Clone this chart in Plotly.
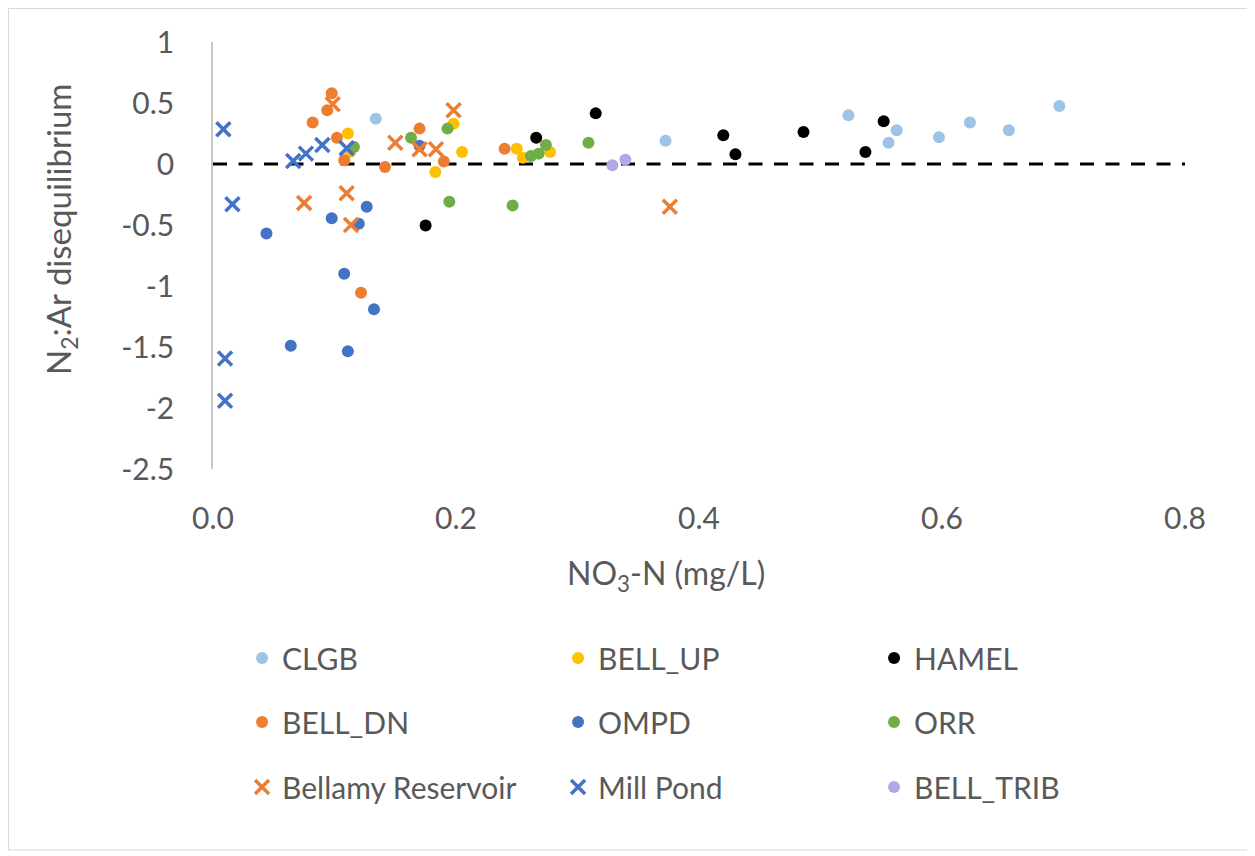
import plotly.graph_objects as go

# ---- data ----
clgb_x = [0.134, 0.3725, 0.523, 0.556, 0.5627, 0.5975, 0.623, 0.655, 0.6966]
clgb_y = [0.37, 0.19, 0.40, 0.175, 0.276, 0.22, 0.34, 0.276, 0.475]

bell_up_x = [0.111, 0.113, 0.183, 0.198, 0.205, 0.250, 0.255, 0.2774]
bell_up_y = [0.25, 0.10, -0.065, 0.33, 0.098, 0.125, 0.052, 0.098]

hamel_x = [0.175, 0.266, 0.315, 0.420, 0.430, 0.486, 0.537, 0.552]
hamel_y = [-0.505, 0.216, 0.415, 0.235, 0.08, 0.262, 0.098, 0.35]

bell_dn_x = [0.082, 0.094, 0.0977, 0.102, 0.108, 0.1218, 0.1416, 0.170, 0.190, 0.240]
bell_dn_y = [0.34, 0.44, 0.58, 0.215, 0.03, -1.055, -0.025, 0.29, 0.02, 0.125]

ompd_x = [0.044, 0.064, 0.0977, 0.108, 0.111, 0.120, 0.1265, 0.1325, 0.170]
ompd_y = [-0.57, -1.49, -0.445, -0.90, -1.535, -0.49, -0.35, -1.19, 0.15]

orr_x = [0.116, 0.163, 0.193, 0.1945, 0.2466, 0.2617, 0.268, 0.274, 0.309]
orr_y = [0.14, 0.216, 0.29, -0.31, -0.34, 0.066, 0.085, 0.156, 0.175]

bellamy_x = [0.075, 0.0985, 0.110, 0.1136, 0.150, 0.170, 0.1835, 0.198, 0.376]
bellamy_y = [-0.32, 0.49, -0.24, -0.50, 0.175, 0.12, 0.12, 0.44, -0.35]

mill_x = [0.0085, 0.0099, 0.0099, 0.016, 0.066, 0.0765, 0.090, 0.110]
mill_y = [0.284, -1.595, -1.94, -0.33, 0.025, 0.085, 0.155, 0.13]

trib_x = [0.3287, 0.3394]
trib_y = [-0.01, 0.035]

ref_x = [0.0, 0.8]
ref_y = [0.0, 0.0]

x_ticks = [0.0, 0.2, 0.4, 0.6, 0.8]
x_tick_text = ["0.0", "0.2", "0.4", "0.6", "0.8"]
y_ticks = [1, 0.5, 0, -0.5, -1, -1.5, -2, -2.5]
y_tick_text = ["1", "0.5", "0", "-0.5", "-1", "-1.5", "-2", "-2.5"]

x_title = "NO<sub>3</sub>-N (mg/L)"
y_title = "N<sub>2</sub>:Ar disequilibrium"

FONT = "Lato"
GREY = "#595959"

fig = go.Figure()

fig.add_trace(go.Scatter(x=ref_x, y=ref_y, mode="lines", showlegend=False,
                         line=dict(color="black", width=3.2, dash="14px,11.5px"),
                         hoverinfo="skip"))

def dots(name, xs, ys, color, legend):
    fig.add_trace(go.Scatter(x=xs, y=ys, mode="markers", name=name, legend=legend,
                             marker=dict(symbol="circle", size=12, color=color,
                                         line=dict(width=0))))

def crosses(name, xs, ys, color, legend):
    fig.add_trace(go.Scatter(x=xs, y=ys, mode="markers", name=name, legend=legend,
                             marker=dict(symbol="x-thin", size=14, color=color,
                                         line=dict(width=3.5, color=color))))

dots("CLGB", clgb_x, clgb_y, "#9DC3E6", "legend")
dots("BELL_UP", bell_up_x, bell_up_y, "#FFC000", "legend")
dots("HAMEL", hamel_x, hamel_y, "#000000", "legend")
dots("BELL_DN", bell_dn_x, bell_dn_y, "#ED7D31", "legend2")
dots("OMPD", ompd_x, ompd_y, "#4472C4", "legend2")
dots("ORR", orr_x, orr_y, "#70AD47", "legend2")
crosses("Bellamy Reservoir", bellamy_x, bellamy_y, "#ED7D31", "legend3")
crosses("Mill Pond", mill_x, mill_y, "#4472C4", "legend3")
dots("BELL_TRIB", trib_x, trib_y, "#B4A7E5", "legend3")

def leg(y):
    return dict(orientation="h", x=0.0299, xanchor="left", y=y, yanchor="middle",
                entrywidth=271, entrywidthmode="pixels",
                font=dict(family=FONT, size=30, color=GREY),
                bgcolor="rgba(0,0,0,0)", itemwidth=30, traceorder="normal")

fig.update_layout(
    width=1255, height=856,
    margin=dict(l=205, r=78, t=34, b=395, pad=0),
    paper_bgcolor="white", plot_bgcolor="white",
    font=dict(family=FONT, color=GREY),
    legend=leg(-0.4426),
    legend2=leg(-0.5925),
    legend3=leg(-0.7447),
    xaxis=dict(range=[0, 0.8], tickvals=x_ticks, ticktext=x_tick_text,
               showgrid=False, zeroline=False, showline=False, ticks="",
               tickfont=dict(family=FONT, size=30, color=GREY),
               ticklabelstandoff=29),
    yaxis=dict(range=[-2.5, 1], tickvals=y_ticks, ticktext=y_tick_text,
               showgrid=False, zeroline=False, showline=True,
               linecolor="#C8C8C8", linewidth=1.5, ticks="",
               tickfont=dict(family=FONT, size=30, color=GREY),
               ticklabelstandoff=31),
    annotations=[
        dict(text=x_title, xref="paper", yref="paper", x=0.466, y=-0.2482,
             xanchor="center", yanchor="middle", showarrow=False,
             font=dict(family=FONT, size=32, color=GREY)),
        dict(text=y_title, xref="paper", yref="paper", x=-0.1574, y=0.5597,
             xanchor="center", yanchor="middle", showarrow=False, textangle=-90,
             font=dict(family=FONT, size=33, color=GREY)),
    ],
    shapes=[dict(type="rect", xref="paper", yref="paper",
                 x0=-0.2104, x1=1.0669, y0=-0.8923, y1=1.0785,
                 line=dict(color="#D9D9D9", width=1), fillcolor="rgba(0,0,0,0)",
                 layer="below")],
)

fig.write_html("out.html")
